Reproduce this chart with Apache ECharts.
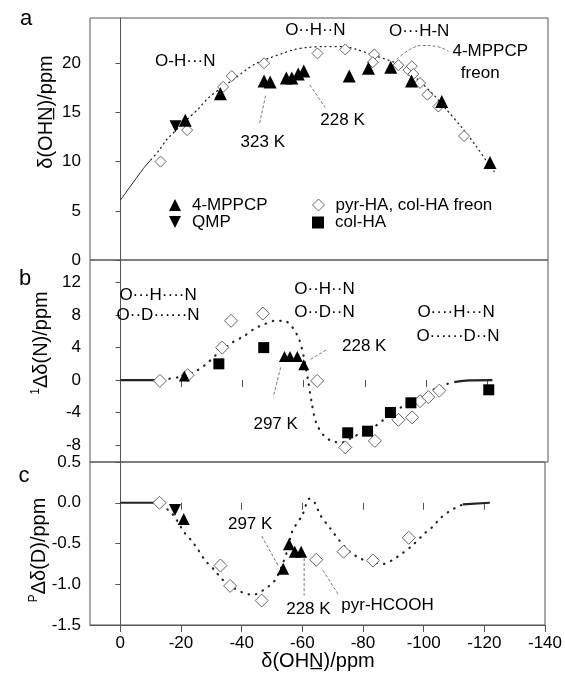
<!DOCTYPE html>
<html><head><meta charset="utf-8">
<script src="https://cdn.jsdelivr.net/npm/echarts@6/dist/echarts.min.js"></script>
<style>html,body{margin:0;padding:0;background:#fff}#c{width:565px;height:674px}</style>
</head><body><div id="c"></div>
<script>
// ---------- tick values ----------
const xTicks = [0, -20, -40, -60, -80, -100, -120, -140];
const xTopTicks = [0, -20, -40, -60, -80, -100, -120];
const aTicks = [0, 5, 10, 15, 20];
const bTicks = [-8, -4, 0, 4, 8, 12];
const cTicks = [-1.5, -1.0, -0.5, 0.0, 0.5];

// ---------- panel a : delta(OHN) ----------
const aMPPCP = [[-21.2,14.2],[-32.7,16.9],[-47.0,18.2],[-49.0,18.1],[-54.3,18.5],[-56.1,18.5],[-58.2,18.9],[-60.0,19.2],[-74.9,18.7],[-81.2,19.5],[-88.5,19.6],[-95.3,18.2],[-105.2,16.1],[-121.0,9.9]];
const aQMP = [[-18.0,13.6]];
const aPyr = [[-13.1,10.0],[-21.8,13.2],[-33.6,17.6],[-36.4,18.7],[-47.0,20.0],[-64.5,21.0],[-73.6,21.4],[-83.1,20.9],[-82.6,20.1],[-91.0,19.8],[-94.3,19.3],[-95.4,19.7],[-95.9,18.9],[-98.1,18.0],[-100.5,16.8],[-104.1,15.6],[-112.5,12.6]];
const aCurveSolid = [[0,6.1],[-7.5,9.3],[-10,10.2]];
const aCurveDots = [[-10,10.2],[-12.5,11.1],[-15.0,12.2],[-18.2,13.2],[-21.8,14.3],[-25.3,15.3],[-28.5,16.4],[-33.0,17.5],[-37.2,18.4],[-41.0,19.3],[-44.5,20.0],[-48.5,20.5],[-53.0,21.0],[-57.0,21.4],[-61.0,21.6],[-66.7,21.7],[-72.7,21.7],[-77.4,21.4],[-82.1,20.9],[-86.9,20.4],[-90.4,20.0],[-94.0,19.3],[-97.5,18.3],[-102.2,16.9],[-107.0,15.2],[-111.7,13.5],[-116.4,11.6],[-120.0,10.0],[-122.4,9.0]];

// ---------- panel b : 1Δδ(N) ----------
const bMPPCP = [[-20.9,0.5],[-53.7,2.9],[-55.5,2.9],[-57.9,2.9],[-60.0,1.9]];
const bPyr = [[-12.9,-0.1],[-22.0,0.6],[-33.3,4.0],[-36.2,7.3],[-46.6,8.2],[-64.4,-0.1],[-73.6,-8.3],[-83.3,-7.5],[-91.0,-4.9],[-95.5,-4.6],[-98.1,-2.6],[-100.8,-2.1],[-104.4,-1.3]];
const bColHA = [[-32.2,2.0],[-46.9,4.0],[-74.4,-6.5],[-80.9,-6.3],[-88.4,-4.0],[-95.1,-2.8],[-120.6,-1.2]];
const bCurveSolidL = [[0,0],[-11,0]];
const bCurveDots = [[-11.1,0],[-15.9,0.16],[-19.4,0.4],[-24.1,1.0],[-27.7,1.85],[-31.0,3.0],[-33.8,3.8],[-36.9,4.7],[-40.4,5.4],[-43.7,6.3],[-47.2,6.9],[-50.4,7.3],[-53.7,7.3],[-56.3,6.5],[-58.5,5.0],[-60.0,2.9],[-61.4,0],[-62.7,-3.0],[-64.1,-5.3],[-66.5,-6.8],[-69.1,-7.5],[-72.4,-7.7],[-76.2,-7.0],[-79.8,-6.4],[-83.3,-5.7],[-89.2,-4.0],[-94.0,-2.9],[-98.1,-2.1],[-104.4,-0.8],[-109.3,-0.25]];
const bCurveSolidR = [[-109.3,-0.25],[-114.1,-0.04],[-121.8,0]];

// ---------- panel c : PΔδ(D) ----------
const cQMP = [[-18.0,-0.09]];
const cMPPCP = [[-20.9,-0.2],[-53.7,-0.81],[-55.6,-0.51],[-57.5,-0.60],[-59.6,-0.60]];
const cPyr = [[-12.9,0.0],[-33.0,-0.77],[-36.2,-1.02],[-46.6,-1.20],[-64.6,-0.70],[-73.6,-0.60],[-83.3,-0.71],[-95.1,-0.43]];
const cCurveSolidL = [[0,0],[-11,0]];
const cCurveDots = [[-11,0],[-15.9,-0.09],[-18.2,-0.19],[-21.2,-0.37],[-23.6,-0.47],[-25.7,-0.58],[-28.0,-0.71],[-30.9,-0.82],[-33.6,-0.94],[-37.2,-1.04],[-40.2,-1.10],[-43.7,-1.13],[-47.2,-1.07],[-50.8,-0.96],[-53.1,-0.79],[-55.1,-0.58],[-56.7,-0.35],[-60.0,-0.15],[-62.4,0.05],[-64.1,0.0],[-65.9,-0.15],[-69.1,-0.31],[-72.4,-0.47],[-75.6,-0.60],[-79.5,-0.69],[-83.3,-0.73],[-86.9,-0.75],[-90.2,-0.69],[-93.0,-0.62],[-96.1,-0.53],[-100.5,-0.37],[-102.8,-0.30],[-105.8,-0.18],[-109.1,-0.09],[-112.9,-0.02]];
const cCurveSolidR = [[-112.9,-0.02],[-121.8,0]];

// ---------- annotations [x, y, text] ----------
const aNotes = [[-21.2,20.2,'O-H···N'],[-63.8,23.3,'O··H··N'],[-97.8,23.2,'O···H-N'],[-121.1,21.2,'4-MPPCP'],[-117.8,19.0,'freon'],[-46.6,12.0,'323 K'],[-72.7,14.2,'228 K']];
const bNotes = [[-12.3,10.5,'O···H····N'],[-12.3,8.0,'O··D······N'],[-66.8,11.2,'O··H··N'],[-66.8,8.4,'O··D··N'],[-109.9,8.4,'O····H···N'],[-110.5,5.4,'O······D··N'],[-79.8,4.2,'228 K'],[-50.8,-5.4,'297 K']];
const cNotes = [[-42.8,-0.26,'297 K'],[-62.0,-1.31,'228 K'],[-88.1,-1.26,'pyr-HCOOH']];
// leader lines
const aLead323 = [[-47.5,16.7],[-45.4,13.7]];
const aLead228 = [[-62.0,17.8],[-67.0,15.5]];
const aLeadFreon = [[-90.5,20.4],[-94.8,21.4],[-99.2,21.8],[-103.6,21.7],[-107.4,21.2]];
const bLead228 = [[-67.3,3.7],[-62.0,2.5]];
const bLead297 = [[-50.2,-1.8],[-52.5,1.65]];
const cLead297 = [[-46.6,-0.41],[-52.0,-0.77]];
const cLead228 = [[-60.6,-0.68],[-60.6,-1.14]];
const cLeadPyr = [[-66.8,-0.83],[-72.1,-1.14]];

const FONT = "'Liberation Sans', Arial, sans-serif";
const INK = '#000';
const AX = '#555';

const chart = echarts.init(document.getElementById('c'), null, {renderer: 'canvas'});

const grids = [
  {left: 90, right: 17, top: 18, height: 242},
  {left: 90, right: 17, top: 260, height: 202},
  {left: 90, right: 17, top: 462, height: 163}
].map(g => Object.assign(g, {show: true, borderColor: AX, borderWidth: 1, backgroundColor: 'transparent'}));

function xAx(grid, pos, opts) {
  return Object.assign({
    type: 'value', gridIndex: grid, position: pos, min: -140, max: 10, inverse: true,
    axisLine: {show: false}, splitLine: {show: false},
    axisTick: {show: false}, axisLabel: {show: false}
  }, opts || {});
}
function yAx(grid, min, max, ticks, fmt) {
  return {
    type: 'value', gridIndex: grid, min: min, max: max,
    axisLine: {show: true, lineStyle: {color: AX}}, splitLine: {show: false},
    axisTick: {show: true, length: 5, customValues: ticks, lineStyle: {color: AX}},
    axisLabel: {show: true, customValues: ticks, margin: 9, fontSize: 17, fontFamily: FONT, color: INK,
      formatter: fmt || (v => String(v))}
  };
}
const topTick = {axisTick: {show: true, inside: true, length: 7, customValues: xTopTicks, lineStyle: {color: AX}}};

const xAxes = [
  xAx(0, 'bottom'),
  xAx(1, 'top', topTick),
  xAx(2, 'top', topTick),
  xAx(2, 'bottom', {
    axisLine: {show: true, onZero: false, lineStyle: {color: AX}},
    axisTick: {show: true, length: 7, customValues: xTicks, lineStyle: {color: AX}},
    axisLabel: {show: true, customValues: xTicks, margin: 10, fontSize: 17, fontFamily: FONT, color: INK}
  })
];
const yAxes = [
  yAx(0, 0, 24.6, aTicks),
  yAx(1, -10.1, 14.8, bTicks),
  yAx(2, -1.5, 0.5, cTicks, v => v.toFixed(1))
];

function pts(name, xi, yi, data, sym, size, rot, z) {
  const isDia = sym === 'diamond';
  return {
    type: 'scatter', name: name, xAxisIndex: xi, yAxisIndex: yi, data: data,
    symbol: sym, symbolSize: size, symbolRotate: rot || 0, z: z || 3, silent: true,
    itemStyle: isDia ? {color: '#fff', borderColor: '#666', borderWidth: 1, opacity: 1}
                     : {color: '#000', opacity: 1}
  };
}
function curve(xi, yi, data, style) {
  return {type: 'line', xAxisIndex: xi, yAxisIndex: yi, data: data, symbol: 'none', silent: true, z: 2,
    smooth: 0.3, lineStyle: Object.assign({color: '#222'}, style)};
}
function lead(xi, yi, data, smooth) {
  return {type: 'line', xAxisIndex: xi, yAxisIndex: yi, data: data, symbol: 'none', silent: true, z: 2,
    smooth: smooth ? 0.5 : false, lineStyle: {color: '#555', width: 0.8, type: [3, 2]}};
}

const dotsA = {width: 1.3, type: [1, 4], cap: 'round'};
const dotsBC = {width: 2.2, type: [0.5, 7], cap: 'round'};
const solidA = {width: 1};
const solidBC = {width: 2.2};

const series = [
  // panel a
  curve(0, 0, aCurveSolid, solidA), curve(0, 0, aCurveDots, dotsA),
  lead(0, 0, aLead323), lead(0, 0, aLead228), lead(0, 0, aLeadFreon, true),
  pts('pyr-HA, col-HA freon', 0, 0, aPyr, 'diamond', 11, 0, 3),
  pts('4-MPPCP', 0, 0, aMPPCP, 'triangle', 13, 0, 4),
  pts('QMP', 0, 0, aQMP, 'triangle', 12, 180, 4),
  // panel b
  curve(1, 1, bCurveSolidL, solidBC), curve(1, 1, bCurveDots, dotsBC), curve(1, 1, bCurveSolidR, solidBC),
  lead(1, 1, bLead228), lead(1, 1, bLead297),
  pts('pyr-HA, col-HA freon', 1, 1, bPyr, 'diamond', 13, 0, 3),
  pts('4-MPPCP', 1, 1, bMPPCP, 'triangle', 11, 0, 4),
  pts('col-HA', 1, 1, bColHA, 'rect', 11, 0, 4),
  // panel c (x index 2 = top axis, share grid)
  curve(2, 2, cCurveSolidL, solidBC), curve(2, 2, cCurveDots, dotsBC), curve(2, 2, cCurveSolidR, solidBC),
  lead(2, 2, cLead297), lead(2, 2, cLead228), lead(2, 2, cLeadPyr),
  pts('pyr-HA, col-HA freon', 2, 2, cPyr, 'diamond', 13, 0, 3),
  pts('4-MPPCP', 2, 2, cMPPCP, 'triangle', 12, 0, 4),
  pts('QMP', 2, 2, cQMP, 'triangle', 12, 180, 4)
];

function leg(name, icon, left, top, style) {
  return {
    left: left, top: top, orient: 'vertical', selectedMode: false,
    itemWidth: 12, itemHeight: 12, padding: 0,
    textStyle: {fontSize: 17, fontFamily: FONT, color: INK, lineHeight: 18, padding: [0, 0, 0, 6]},
    data: [{name: name, icon: icon, itemStyle: style}]
  };
}
const legends = [
  leg('4-MPPCP', 'triangle', 169, 196, {color: '#000', borderWidth: 0}),
  leg('QMP', 'path://M0,0 L10,0 L5,10 Z', 169, 213, {color: '#000', borderWidth: 0}),
  leg('pyr-HA, col-HA freon', 'diamond', 312, 196, {color: '#fff', borderColor: '#666', borderWidth: 1}),
  leg('col-HA', 'rect', 312, 213.5, {color: '#000', borderWidth: 0})
];

function vtitle(text, x, y) {
  return {type: 'text', x: x, y: y, rotation: Math.PI / 2, z: 10, silent: true,
    style: {text: text, fontSize: 20, fontFamily: FONT, fill: INK, align: 'center', verticalAlign: 'middle',
      rich: {s: {fontSize: 12, fontFamily: FONT, fill: INK, verticalAlign: 'top', lineHeight: 22},
             m: {fontSize: 20, fontFamily: FONT, fill: INK, lineHeight: 22}}}};
}
function txt(text, x, y, size) {
  return {type: 'text', x: x, y: y, silent: true, z: 10,
    style: {text: text, fontSize: size, fontFamily: FONT, fill: INK, align: 'center', verticalAlign: 'middle'}};
}
const graphic = [
  txt('a', 26, 19, 22), txt('b', 25, 279, 22), txt('c', 24, 476, 22),
  vtitle('δ(OHN\u0332)/ppm', 46, 112),
  vtitle('{s|1}{m|Δδ(N)/ppm}', 41, 343),
  vtitle('{s|P}{m|Δδ(D)/ppm}', 39, 550),
  txt('δ(OHN\u0332)/ppm', 318, 661, 20)
];

chart.setOption({
  animation: false,
  backgroundColor: '#fff',
  grid: grids,
  xAxis: xAxes,
  yAxis: yAxes,
  legend: legends,
  series: series
});

// annotation texts placed at data coordinates through the axes
function place(notes, xi, yi) {
  notes.forEach(n => {
    const p = chart.convertToPixel({xAxisIndex: xi, yAxisIndex: yi}, [n[0], n[1]]);
    graphic.push(txt(n[2], p[0], p[1], 17));
  });
}
place(aNotes, 0, 0);
place(bNotes, 1, 1);
place(cNotes, 3, 2);
chart.setOption({graphic: graphic});
</script></body></html>
